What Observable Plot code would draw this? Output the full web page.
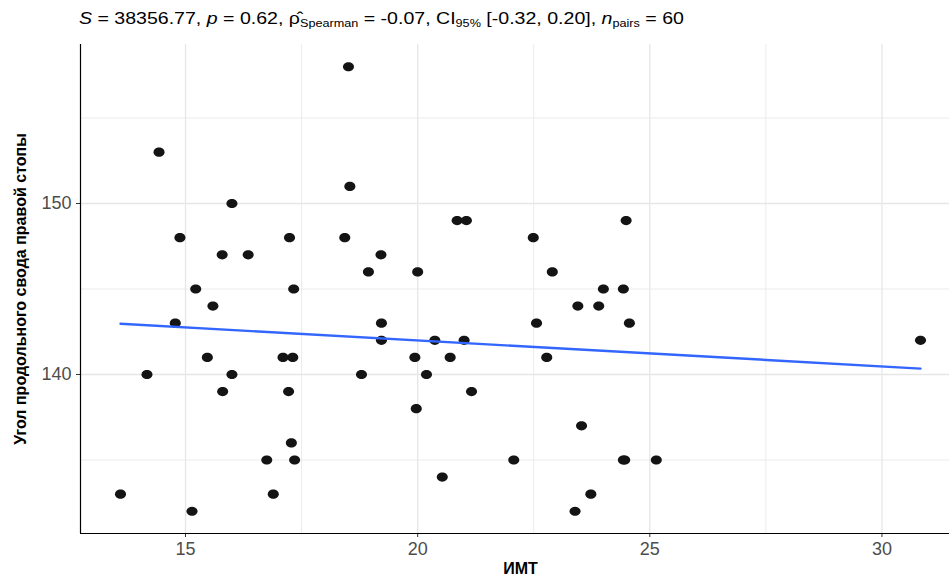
<!DOCTYPE html>
<html>
<head>
<meta charset="utf-8">
<script src="https://cdn.jsdelivr.net/npm/d3@7"></script>
<script src="https://cdn.jsdelivr.net/npm/@observablehq/plot@0.6"></script>
<style>
  html, body { margin: 0; padding: 0; background: #fff; overflow: hidden; width: 949px; height: 576px; }
  #sub { height: 38px; box-sizing: border-box; padding: 9px 0 0 0; margin-left: 79px; font: 17px "Liberation Sans", Arial, sans-serif; color: #000; white-space: nowrap; line-height: 20px; transform: scaleX(1.15); transform-origin: 0 0; }
  #sub sub { font-size: 11px; vertical-align: -3px; line-height: 0; }
  #chart { width: 960px; }
  #chart svg { display: block; max-width: none !important; }
</style>
</head>
<body>
<div id="sub"><i>S</i> = 38356.77, <i>p</i> = 0.62, ρ&#770;<sub>Spearman</sub> = -0.07, CI<sub>95%</sub> [-0.32, 0.20], <i>n</i><sub>pairs</sub> = 60</div>
<div id="chart"></div>
<script>
// ИМТ (BMI) values
const bmi = [
  18.51, 14.43, 18.54, 16.0, 14.88, 17.24, 18.43, 15.79, 16.35, 19.21,
  18.94, 15.22, 17.33, 15.59, 14.78, 19.22, 19.22, 15.47, 17.10, 17.31,
  14.17, 16.0, 18.79, 15.80, 17.22, 17.28, 16.75, 17.35, 13.60, 16.89,
  15.14, 20.85, 21.05, 24.49, 22.49, 20.0, 22.90, 24.0, 24.43, 23.45,
  23.90, 22.56, 24.56, 20.37, 21.0, 19.94, 20.70, 22.78, 20.19, 21.16,
  19.97, 23.53, 22.07, 24.43, 24.46, 25.14, 20.53, 23.73, 23.39, 30.83
];
// Угол продольного свода правой стопы
const angle = [
  158, 153, 151, 150, 148, 148, 148, 147, 147, 147,
  146, 145, 145, 144, 143, 143, 142, 141, 141, 141,
  140, 140, 140, 139, 139, 136, 135, 135, 133, 133,
  132, 149, 149, 149, 148, 146, 146, 145, 145, 144,
  144, 143, 143, 142, 142, 141, 141, 141, 140, 139,
  138, 137, 135, 135, 135, 135, 134, 133, 132, 142
];
const xTicks = [15, 20, 25, 30];
const xMinor = [17.5, 22.5, 27.5];
const yTicks = [140, 150];
const yMinor = [135, 145, 155];
const xTitle = "ИМТ";
const yTitle = "Угол продольного свода правой стопы";

const data = bmi.map((x, i) => ({x, y: angle[i]}));

function expand(vals) {
  const lo = d3.min(vals), hi = d3.max(vals), p = 0.05 * (hi - lo);
  return [lo - p, hi + p];
}
const xDomain = expand(bmi);
const yDomain = expand(angle);

// slightly wide ellipse symbol (reference dots are stretched horizontally)
const ellipse = {
  draw(ctx, size) {
    const r = Math.sqrt(size / Math.PI);
    const rx = r * 1.2, ry = r, k = 0.5523;
    ctx.moveTo(rx, 0);
    ctx.bezierCurveTo(rx, ry * k, rx * k, ry, 0, ry);
    ctx.bezierCurveTo(-rx * k, ry, -rx, ry * k, -rx, 0);
    ctx.bezierCurveTo(-rx, -ry * k, -rx * k, -ry, 0, -ry);
    ctx.bezierCurveTo(rx * k, -ry, rx, -ry * k, rx, 0);
    ctx.closePath();
  }
};

const font = '"Liberation Sans", Arial, sans-serif';

const plot = Plot.plot({
  width: 960,
  height: 538,
  marginLeft: 80,
  marginRight: 0,
  marginTop: 6,
  marginBottom: 43,
  style: {fontFamily: font, background: "#fff", maxWidth: "none"},
  x: {domain: xDomain},
  y: {domain: yDomain},
  marks: [
    Plot.gridX(xMinor, {stroke: "#ebebeb", strokeOpacity: 1, strokeWidth: 1}),
    Plot.gridY(yMinor, {stroke: "#ebebeb", strokeOpacity: 1, strokeWidth: 1}),
    Plot.gridX(xTicks, {stroke: "#e6e6e6", strokeOpacity: 1, strokeWidth: 1.3}),
    Plot.gridY(yTicks, {stroke: "#e6e6e6", strokeOpacity: 1, strokeWidth: 1.3}),
    Plot.axisX(xTicks, {tickSize: 4, tickPadding: 5, fontSize: 18, fill: "#4d4d4d", stroke: "#333", label: null}),
    Plot.axisY(yTicks, {tickSize: 4, tickPadding: 5, fontSize: 18, fill: "#4d4d4d", stroke: "#333", label: null}),
    Plot.ruleX([xDomain[0]], {stroke: "#000", strokeWidth: 1.2}),
    Plot.ruleY([yDomain[0]], {stroke: "#000", strokeWidth: 1.2}),
    Plot.dot(data, {x: "x", y: "y", r: 4.6, symbol: ellipse, fill: "#141414", stroke: "none"}),
    Plot.linearRegressionY(data, {x: "x", y: "y", stroke: "#3366FF", strokeWidth: 2.4, ci: 0}),
    Plot.text([yTitle], {frameAnchor: "left", rotate: -90, textAnchor: "middle", lineAnchor: "middle", dx: -60, fontSize: 16, fontWeight: "bold", fill: "#000"}),
    Plot.text([xTitle], {frameAnchor: "bottom", dy: 40, fontSize: 16, fontWeight: "bold", fill: "#000"})
  ]
});
document.getElementById("chart").appendChild(plot);
</script>
</body>
</html>
